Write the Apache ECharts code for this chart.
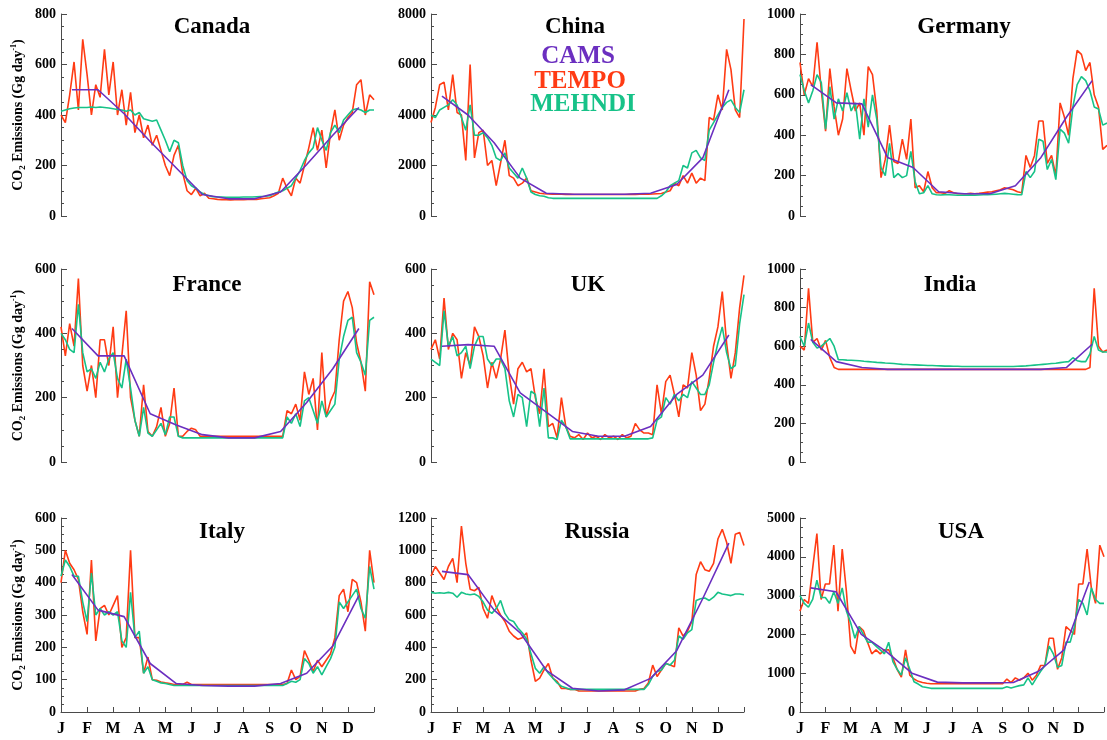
<!DOCTYPE html>
<html>
<head>
<meta charset="utf-8">
<title>CO2 emissions by country</title>
<script src="https://cdn.jsdelivr.net/npm/echarts@6/dist/echarts.min.js"></script>
<style>
  html, body { margin: 0; padding: 0; background: #ffffff; }
  #chart { width: 1107px; height: 740px; }
</style>
</head>
<body>
<div id="chart"></div>
<script>
// ---- data -------------------------------------------------------------
const MONTH_LABELS = ['J', 'F', 'M', 'A', 'M', 'J', 'J', 'A', 'S', 'O', 'N', 'D'];
const SERIES_NAMES = ['CAMS', 'TEMPO', 'MEHNDI'];
const COUNTRIES = ['Canada', 'China', 'Germany', 'France', 'UK', 'India', 'Italy', 'Russia', 'USA'];
const Y_MAX  = [800, 8000, 1000, 600, 600, 1000, 600, 1200, 5000];
const Y_STEP = [200, 2000, 200, 200, 200, 200, 100, 200, 1000];

// TEMPO and MEHNDI: one value every 1/6 month (Jan 1 .. Dec 31)
const SAMPLES_PER_MONTH = 6;
// CAMS: one value per month, placed near the middle of each month
const CAMS_MONTH_OFFSET = 0.42;

const canadaTempo  = [400,370,480,610,420,700,560,400,520,470,660,480,610,400,500,360,490,330,400,310,360,280,320,260,200,160,240,280,170,100,85,110,80,90,70,
  68,66,65,65,64,65,66,65,66,67,66,68,70,72,
  80,90,150,110,80,150,130,200,270,350,260,340,190,330,420,300,360,390,410,520,540,400,480,460];
const canadaMehndi = [415,420,425,428,430,430,430,432,430,432,430,428,425,422,420,415,420,400,410,385,380,375,380,340,300,255,300,290,200,140,120,110,95,85,80,
  76,75,75,74,74,74,74,75,75,75,76,77,78,80,
  88,95,100,110,120,150,180,220,250,270,350,300,260,330,360,330,380,400,420,425,420,410,420,420];
const canadaCams   = [500,500,405,295,190,85,68,68,95,204,320,430];

const chinaTempo  = [3700,4300,5200,5300,4200,5600,4100,4000,2200,6000,2300,3300,3400,2000,2200,1200,2100,3000,1600,1500,1200,1300,1500,1000,950,900,
  880,870,865,860,860,855,855,850,850,850,850,850,850,850,850,850,850,850,850,850,855,855,860,860,865,870,880,890,
  950,1000,1300,1200,1600,1300,1700,1300,1500,1400,3900,3800,4800,4200,6600,5800,4200,3900,7800];
const chinaMehndi = [4000,3900,4200,4300,4400,4600,4400,3900,3400,4400,3200,3200,3300,3100,2800,2300,2200,2500,1900,1700,1500,1900,1500,950,850,800,780,720,
  700,700,700,700,700,700,700,700,700,700,700,700,700,700,700,700,700,700,700,700,700,700,700,700,700,
  800,950,1200,1300,1400,2000,1900,2500,2600,2300,2200,3400,3700,4000,4300,4500,4600,4300,4100,5000];
const chinaCams   = [4750,4000,2900,1500,900,860,860,860,900,1250,2300,5000];

const germanyTempo  = [760,600,680,640,860,620,420,730,540,400,480,730,620,520,560,400,740,700,520,190,280,450,270,260,380,280,480,140,150,120,220,140,115,
  115,112,125,115,110,110,110,112,110,112,115,118,120,125,130,140,135,130,120,115,
  300,240,300,470,470,260,300,200,560,490,400,680,820,800,720,760,600,540,330,350];
const germanyMehndi = [700,620,560,620,700,660,430,640,480,580,520,610,520,560,380,580,440,600,480,240,200,360,190,210,190,200,320,170,110,115,150,110,
  105,104,106,105,104,103,103,103,104,103,104,105,106,107,108,110,112,110,108,106,105,
  220,190,220,380,370,230,280,180,430,410,360,540,650,690,670,620,540,530,450,460];
const germanyCams   = [650,560,555,290,240,120,110,110,150,290,490,670];

const franceTempo  = [420,330,430,360,570,300,220,300,200,380,380,300,420,200,330,470,200,130,80,240,95,80,110,170,80,120,230,80,80,95,105,100,
  80,80,80,80,80,80,80,80,80,80,80,80,80,80,80,80,80,80,80,80,
  160,150,180,130,280,210,260,100,340,140,190,220,380,500,530,480,370,310,220,560,520];
const franceMehndi = [400,380,350,340,490,340,280,290,260,310,280,320,340,260,230,320,230,130,80,170,90,80,100,120,85,140,140,80,
  75,75,75,75,75,75,75,75,75,75,75,75,75,75,75,75,75,75,75,75,75,75,75,75,
  140,120,150,110,190,200,160,120,190,140,160,180,320,390,440,450,340,310,270,440,450];
const franceCams   = [415,330,330,150,115,85,75,75,95,185,290,415];

const ukTempo  = [350,380,320,510,350,400,380,260,340,300,420,390,330,230,310,260,320,410,270,180,290,310,280,290,200,150,290,110,120,75,200,110,80,
  75,85,70,90,75,80,70,85,75,80,70,85,75,80,
  120,100,90,90,85,240,150,250,270,210,140,240,230,340,270,160,180,260,360,420,530,370,260,340,480,580];
const ukMehndi = [320,310,300,470,360,390,330,340,360,290,360,390,390,320,300,320,320,290,190,140,210,200,110,220,210,110,230,75,75,70,130,110,
  72,72,72,72,72,72,72,72,72,72,72,72,72,72,72,72,72,72,72,
  75,130,140,200,180,210,190,210,200,250,230,210,210,240,310,370,420,340,290,300,430,520];
const ukCams   = [360,365,360,215,155,95,80,80,110,210,270,395];

const indiaTempo  = [600,580,900,620,640,580,630,540,490,
  480,480,480,480,480,480,480,480,480,480,480,480,480,480,480,480,480,480,480,480,480,480,480,480,480,480,480,480,480,480,
  480,480,480,480,480,480,480,480,480,480,480,480,480,480,480,480,480,480,480,480,480,480,480,480,480,480,480,480,480,
  490,900,600,570,580];
const indiaMehndi = [650,600,720,620,590,600,620,640,600,530,
  530,528,527,526,525,522,
  520,518,516,515,513,512,510,508,506,505,
  504,503,502,501,500,500,499,498,497,497,496,496,495,495,495,
  495,495,495,495,495,495,495,495,495,495,
  496,497,498,500,502,504,506,508,510,
  512,515,518,520,540,525,520,520,
  560,650,580,570,570];
const indiaCams   = [635,520,490,480,480,480,480,480,480,480,490,610];

const italyTempo  = [400,500,460,440,410,310,240,470,220,320,330,300,330,360,200,230,500,230,230,120,170,100,98,93,90,88,
  85,85,85,92,85,85,85,85,85,85,85,85,85,85,85,85,85,85,85,85,85,85,85,85,85,85,
  88,130,100,110,190,160,125,160,140,160,180,230,360,380,310,410,400,340,250,500,400];
const italyMehndi = [420,470,450,420,420,340,280,430,300,320,300,310,300,310,220,200,370,230,250,120,140,100,95,90,88,85,
  82,82,82,82,82,82,82,82,82,82,82,82,82,82,82,82,82,82,82,82,82,82,82,82,82,82,
  88,95,92,100,165,150,120,140,115,140,165,200,340,320,340,360,380,320,290,450,380];
const italyCams   = [425,315,295,150,88,82,80,80,88,120,204,360];

const russiaTempo  = [840,900,860,820,900,950,800,1150,920,760,750,770,640,580,720,650,600,560,500,470,450,460,490,320,190,210,260,300,210,190,145,145,140,140,
  130,130,130,130,130,130,130,130,130,130,130,130,130,130,
  140,145,180,290,220,260,300,290,280,520,470,500,560,850,930,880,870,920,1070,1130,1050,920,1100,1110,1030];
const russiaMehndi = [740,735,738,735,740,735,710,740,730,725,730,715,680,630,610,640,690,610,570,560,520,490,450,360,270,240,280,240,210,180,160,150,
  140,140,140,140,140,140,140,140,140,140,140,140,140,140,140,140,140,140,
  170,220,250,260,300,290,320,470,450,490,510,690,700,705,690,710,740,730,725,720,730,730,725];
const russiaCams   = [870,850,630,490,258,147,130,137,208,379,702,1045];

const usaTempo  = [2600,2900,2800,3700,4600,2900,3300,3300,4300,2600,4200,3100,1700,1500,2200,2100,1800,1500,1600,1500,1600,1600,1400,1100,900,1600,950,850,790,760,740,
  730,730,730,730,730,730,730,730,730,730,730,730,730,730,730,730,730,730,
  850,760,880,820,880,1000,820,950,1200,1200,1900,1900,1100,1400,2200,2100,2000,3300,3300,4200,3200,2800,4300,4000];
const usaMehndi = [3000,2800,2700,2900,3400,2950,2950,2800,3100,2800,3200,2600,2300,1900,2200,2000,1800,1800,1700,1600,1500,1800,1300,1100,950,1400,1100,780,720,650,630,
  610,610,610,610,610,610,610,610,610,610,610,610,610,610,610,610,610,610,
  650,620,650,680,700,880,700,880,1050,1200,1700,1500,1150,1200,1800,1800,2200,2900,2800,2500,3200,2900,2800,2800];
const usaCams   = [3200,3100,2000,1550,1000,770,750,750,760,1050,1600,3350];

const TEMPO  = [canadaTempo, chinaTempo, germanyTempo, franceTempo, ukTempo, indiaTempo, italyTempo, russiaTempo, usaTempo];
const MEHNDI = [canadaMehndi, chinaMehndi, germanyMehndi, franceMehndi, ukMehndi, indiaMehndi, italyMehndi, russiaMehndi, usaMehndi];
const CAMS   = [canadaCams, chinaCams, germanyCams, franceCams, ukCams, indiaCams, italyCams, russiaCams, usaCams];

// ---- layout & style ---------------------------------------------------
const COL_LEFT = [61, 431, 800];
const PLOT_W = 313;
const ROW_TOP = [14, 269, 518];
const ROW_H = [202, 193, 194];
const TITLE_DX = [151, 144, 164, 146, 157, 150, 161, 166, 161];
const TITLE_Y = [27, 285, 532];

const COLORS = { CAMS: '#6b2fc0', TEMPO: '#ff3b14', MEHNDI: '#17c288' };
const FONT = '"Liberation Serif", "Times New Roman", serif';
const AXIS_COLOR = '#4a4a4a';

const grids = [], xAxes = [], yAxes = [], series = [], graphics = [];

COUNTRIES.forEach(function (country, p) {
  const row = Math.floor(p / 3), col = p % 3;
  const bottomRow = row === 2;
  grids.push({ left: COL_LEFT[col], top: ROW_TOP[row], width: PLOT_W, height: ROW_H[row] });

  xAxes.push({
    gridIndex: p, type: 'value', min: 0, max: 12, interval: 1,
    show: bottomRow,
    axisLine: { show: true, lineStyle: { color: AXIS_COLOR, width: 1 } },
    axisTick: { show: true, inside: true, length: 5, lineStyle: { color: AXIS_COLOR } },
    splitLine: { show: false },
    axisLabel: {
      margin: 9, color: '#000', fontFamily: FONT, fontWeight: 'bold', fontSize: 16,
      formatter: function (v) { return MONTH_LABELS[Math.round(v)] || ''; }
    }
  });

  yAxes.push({
    gridIndex: p, type: 'value', min: 0, max: Y_MAX[p], interval: Y_STEP[p],
    axisLine: { show: true, lineStyle: { color: AXIS_COLOR, width: 1 } },
    axisTick: { show: true, inside: true, length: 6, lineStyle: { color: AXIS_COLOR } },
    minorTick: { show: true, splitNumber: 4, length: 3, lineStyle: { color: AXIS_COLOR } },
    splitLine: { show: false },
    axisLabel: {
      margin: 5, color: '#000', fontFamily: FONT, fontWeight: 'bold', fontSize: 14,
      formatter: function (v) { return String(v); }
    },
    name: col === 0 ? '{n|CO}{sub|2}{n| Emissions (Gg day}{sup|-1}{n|)}' : '',
    nameLocation: 'middle',
    nameGap: 34,
    nameTextStyle: {
      rich: {
        n:   { fontFamily: FONT, fontWeight: 'bold', fontSize: 14, color: '#000', lineHeight: 17, verticalAlign: 'middle' },
        sub: { fontFamily: FONT, fontWeight: 'bold', fontSize: 9,  color: '#000', lineHeight: 17, verticalAlign: 'bottom' },
        sup: { fontFamily: FONT, fontWeight: 'bold', fontSize: 8,  color: '#000', lineHeight: 17, verticalAlign: 'top' }
      }
    }
  });

  const lineBase = { type: 'line', xAxisIndex: p, yAxisIndex: p, showSymbol: false, symbol: 'none', animation: false, silent: true };
  series.push(Object.assign({}, lineBase, {
    name: 'TEMPO',
    data: TEMPO[p].map(function (v, i) { return [i / SAMPLES_PER_MONTH, v]; }),
    lineStyle: { color: COLORS.TEMPO, width: 1.6 }, itemStyle: { color: COLORS.TEMPO }
  }));
  series.push(Object.assign({}, lineBase, {
    name: 'MEHNDI',
    data: MEHNDI[p].map(function (v, i) { return [i / SAMPLES_PER_MONTH, v]; }),
    lineStyle: { color: COLORS.MEHNDI, width: 1.6 }, itemStyle: { color: COLORS.MEHNDI }
  }));
  series.push(Object.assign({}, lineBase, {
    name: 'CAMS',
    data: CAMS[p].map(function (v, k) { return [k + CAMS_MONTH_OFFSET, v]; }),
    lineStyle: { color: COLORS.CAMS, width: 1.6 }, itemStyle: { color: COLORS.CAMS }
  }));

  graphics.push({
    type: 'text', x: COL_LEFT[col] + TITLE_DX[p], y: TITLE_Y[row], z: 100,
    style: { text: country, font: 'bold 23px ' + FONT, fill: '#000',
             align: 'center', verticalAlign: 'middle', textAlign: 'center', textVerticalAlign: 'middle' }
  });
});

// stacked coloured legend words inside the China panel
const LEGEND_X = [578, 580, 583];
const LEGEND_Y = [57, 82, 105];
SERIES_NAMES.forEach(function (name, j) {
  graphics.push({
    type: 'text', x: LEGEND_X[j], y: LEGEND_Y[j], z: 100,
    style: { text: name, font: 'bold 25px ' + FONT, fill: COLORS[name],
             align: 'center', verticalAlign: 'middle', textAlign: 'center', textVerticalAlign: 'middle' }
  });
});

const chart = echarts.init(document.getElementById('chart'), null, { renderer: 'canvas' });
chart.setOption({
  animation: false,
  backgroundColor: '#ffffff',
  grid: grids,
  xAxis: xAxes,
  yAxis: yAxes,
  series: series,
  graphic: graphics
});
</script>
</body>
</html>
